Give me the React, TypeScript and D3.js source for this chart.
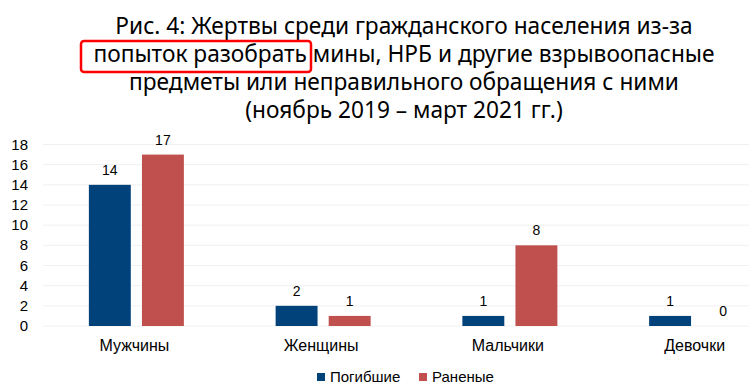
import React from "react";
import * as d3 from "d3";

const categories = ["Мужчины", "Женщины", "Мальчики", "Девочки"];
const seriesNames = ["Погибшие", "Раненые"];
const killed = [14, 2, 1, 1];
const injured = [17, 1, 8, 0];
const yTicks = [0, 2, 4, 6, 8, 10, 12, 14, 16, 18];
const titleLines = [
  "Рис. 4: Жертвы среди гражданского населения из-за",
  "попыток разобрать мины, НРБ и другие взрывоопасные",
  "предметы или неправильного обращения с ними",
  "(ноябрь 2019 – март 2021 гг.)",
];
const colors = ["#01427A", "#C0504D"];

export default function App() {
  const W = 749, H = 391;
  const y = d3.scaleLinear().domain([0, 18]).range([326, 144.5]);
  const x = d3.scaleBand().domain(categories).range([43, 790]).padding(0);
  const inner = d3.scaleBand().domain(seriesNames).range([0, 95]).paddingInner(0.21).paddingOuter(0);
  const data = [killed, injured];
  const tickFont = "'Liberation Sans', Arial, sans-serif";
  const titleFont = "'Noto Sans', sans-serif";
  const baselines = [33.5, 62, 90, 118];
  return (
    <svg width={W} height={H} style={{ position: "absolute", left: 0, top: 0, background: "#fff" }}>
      <rect x={0} y={0} width={W} height={H} fill="#fff" />
      {titleLines.map((t, i) => (
        <text key={i} x={404} y={baselines[i]} textAnchor="middle" fontFamily={titleFont} fontSize={22.7} fill="#000">
          {t}
        </text>
      ))}
      <rect x={81} y={41} width={230} height={31} rx={3} fill="none" stroke="#FF0000" strokeWidth={2.5} />
      {yTicks.map((t) => (
        <g key={t}>
          <line x1={43} x2={W} y1={y(t)} y2={y(t)} stroke="#F0F0F0" strokeWidth={1} />
          <text x={28} y={y(t) + 5} textAnchor="end" fontFamily={tickFont} fontSize={15} fill="#000">
            {t}
          </text>
        </g>
      ))}
      {categories.map((c, ci) => {
        const cx = (x(c) as number) + x.bandwidth() / 2;
        const gx = cx - 47.5;
        return (
          <g key={c}>
            {seriesNames.map((s, si) => {
              const v = data[si][ci];
              const bx = gx + (inner(s) as number);
              return (
                <g key={s}>
                  {v > 0 && (
                    <rect x={bx} y={y(v)} width={inner.bandwidth()} height={y(0) - y(v)} fill={colors[si]} />
                  )}
                  <text x={bx + inner.bandwidth() / 2} y={y(v) - 10} textAnchor="middle" fontFamily={tickFont} fontSize={14} fill="#000">
                    {v}
                  </text>
                </g>
              );
            })}
            <text x={cx - 2} y={351} textAnchor="middle" fontFamily={tickFont} fontSize={16} fill="#000">
              {c}
            </text>
          </g>
        );
      })}
      {seriesNames.map((s, si) => {
        const lx = si === 0 ? 317 : 419;
        return (
          <g key={s}>
            <rect x={lx} y={373} width={8} height={8} fill={colors[si]} />
            <text x={lx + 13} y={382} fontFamily={tickFont} fontSize={15} fill="#000">
              {s}
            </text>
          </g>
        );
      })}
    </svg>
  );
}
